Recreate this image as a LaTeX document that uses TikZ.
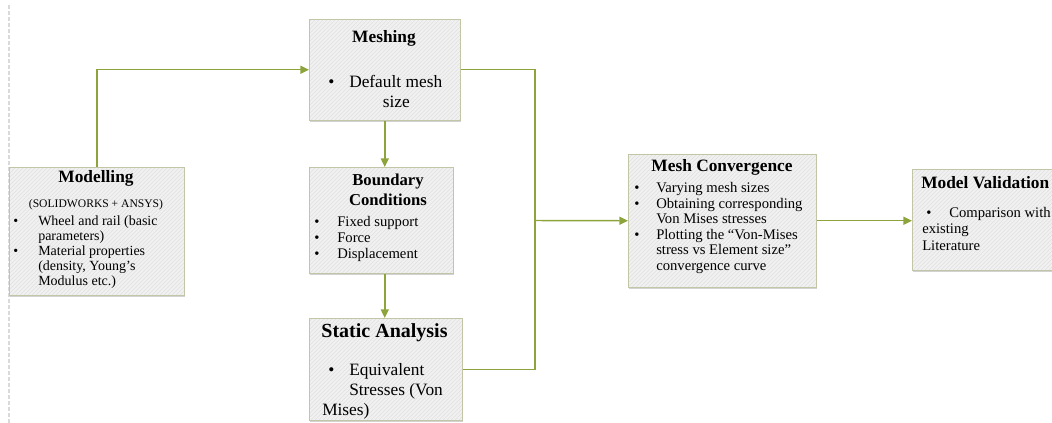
\documentclass[tikz,border=0pt]{standalone}
\usepackage{fontspec}
\setmainfont{Liberation Serif}
\usetikzlibrary{arrows.meta,positioning,shadows,patterns}
\definecolor{leaf}{HTML}{8DA43C}
\definecolor{boxline}{HTML}{C2C6A6}
\definecolor{boxfill}{HTML}{F1F1F1}
\definecolor{hatch}{HTML}{E0E0E0}
\definecolor{guide}{HTML}{DADADA}
\newcommand{\bul}[1][16pt]{\makebox[#1][l]{\textbullet}}
\newcommand{\ind}[1][16pt]{\hspace*{#1}}

\begin{document}
\begin{tikzpicture}[
			x=0.75pt,y=-0.75pt,
			box/.style={fill=boxfill,postaction={pattern=north east lines,pattern color=hatch},postaction={draw=boxline,line width=1pt},drop shadow={shadow xshift=0.8pt,shadow yshift=-1.2pt,fill=black!35},inner sep=0pt,anchor=north west},
			ttl/.style={font=\bfseries\fontsize{13}{15}\selectfont,inner sep=0pt,align=center},
			txt/.style={align=left,inner sep=0pt,anchor=north west},
			link/.style={draw=leaf,line width=1.1pt},
			arr/.style={-{Triangle[length=6.5pt,width=6pt]},draw=leaf,line width=1.1pt}
			]
			\useasboundingbox (0,0) rectangle (1052,423);
			\draw[dash pattern=on 3pt off 1.5pt,line width=0.8pt,draw=guide] (9,5) -- (9,423);
			% boxes
			\node[box,minimum width=131.25pt,minimum height=96pt] (model) at (9,167) {};
			\node[box,minimum width=113.25pt,minimum height=75.75pt] (mesh) at (309,19) {};
			\node[box,minimum width=108pt,minimum height=79.5pt] (bound) at (309,167) {};
			\node[box,minimum width=114.75pt,minimum height=76.5pt] (static) at (309,318) {};
			\node[box,minimum width=141pt,minimum height=99.75pt] (conv) at (628,154) {};
			\node[box,minimum width=112.5pt,minimum height=75.75pt] (valid) at (912,169) {};
			% texts
			\node[ttl] (modelT) at (96,178) {Modelling};
			\node[inner sep=0pt,font=\fontsize{8.7}{10}\selectfont] (modelS) at (96,205) {(SOLIDWORKS + ANSYS)};
			\node[txt,font=\fontsize{10.5}{11.25}\selectfont] (modelB) at (13,216) {\bul[18.75pt]Wheel and rail (basic\\ \ind[18.75pt]parameters)\\ \bul[18.75pt]Material properties\\ \ind[18.75pt](density, Young's\\ \ind[18.75pt]Modulus etc.)};
			\node[ttl] (meshT) at (384,38) {Meshing};
			\node[txt,font=\fontsize{13}{15}\selectfont] (meshB) at (328,75) {\bul[15.75pt]Default mesh\\ \ind[41pt]size};
			\node[ttl,font=\bfseries\fontsize{12.5}{15}\selectfont] (boundT) at (388,190) {Boundary\\Conditions};
			\node[txt,font=\fontsize{11}{12}\selectfont] (boundB) at (314,216) {\bul[17.25pt]Fixed support\\ \bul[17.25pt]Force\\ \bul[17.25pt]Displacement};
			\node[ttl,font=\bfseries\fontsize{15}{17}\selectfont] (staticT) at (384.5,333) {Static Analysis};
			\node[txt,font=\fontsize{13}{15}\selectfont] (staticB) at (322,363) {\ind[4.5pt]\bul[15.75pt]Equivalent\\ \ind[20.25pt]Stresses (Von\\ Mises)};
			\node[ttl] (convT) at (722,167) {Mesh Convergence};
			\node[txt,font=\fontsize{11}{11.7}\selectfont] (convB) at (634,182) {\bul[16.5pt]Varying mesh sizes\\ \bul[16.5pt]Obtaining corresponding\\ \ind[16.5pt]Von Mises stresses\\ \bul[16.5pt]Plotting the ``Von-Mises\\ \ind[16.5pt]stress vs Element size''\\ \ind[16.5pt]convergence curve};
			\node[ttl,anchor=west] (validT) at (921,183) {Model Validation};
			\node[txt,font=\fontsize{11}{12.4}\selectfont] (validB) at (922,207) {\ind[3pt]\bul[17.25pt]Comparison with\\ existing\\ Literature};
			% connectors
			\coordinate (rail) at (535,220.5);
			\draw[arr] (model.north) |- (mesh.west);
			\draw[link] (mesh.east) -| (rail) |- (static.east);
			\draw[arr] (rail) -- (conv.west);
			\draw[arr] (conv.east) -- (conv.east -| valid.west);
			\draw[arr] (mesh.south) -- (mesh.south |- bound.north);
			\draw[arr] (mesh.south |- bound.south) -- (mesh.south |- static.north);
		\end{tikzpicture}
\end{document}
